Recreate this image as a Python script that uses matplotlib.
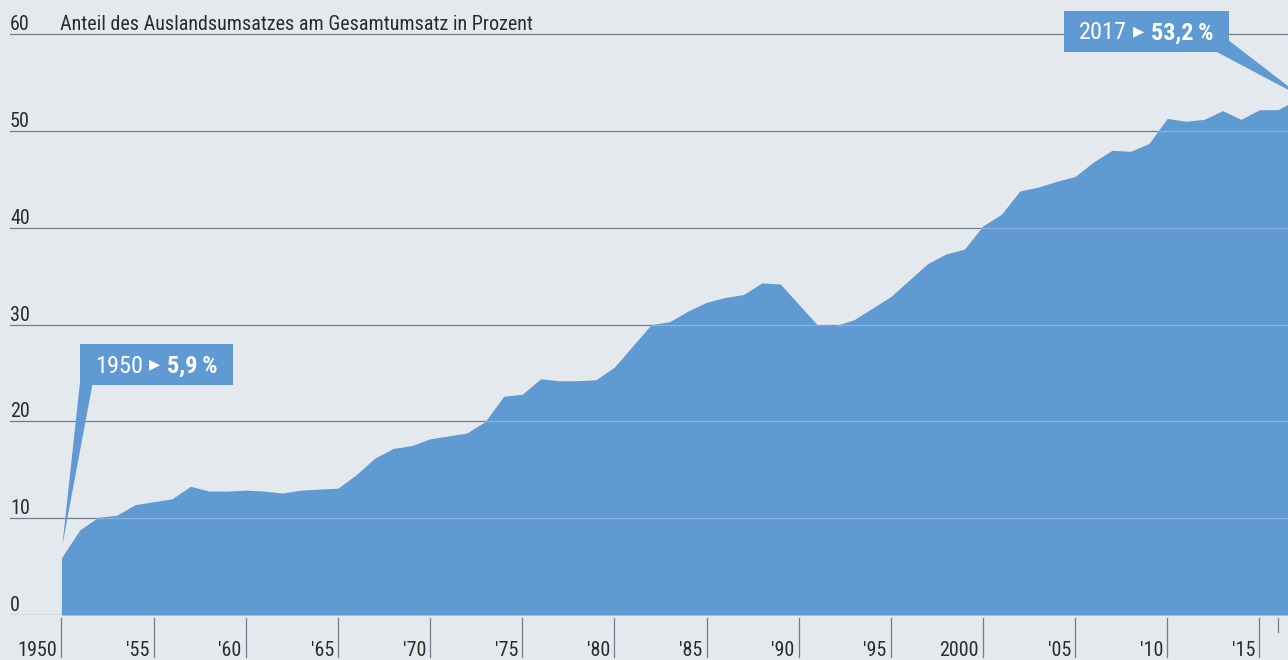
import matplotlib
matplotlib.use('Agg')
import matplotlib.pyplot as plt
import matplotlib.transforms as mtransforms
from matplotlib.patches import Rectangle, Polygon

# Anteil Auslandsumsatz am Gesamtumsatz, in Prozent
years = list(range(1950, 2018))
share = [5.9, 8.8, 10.1, 10.3, 11.4, 11.7, 12.0, 13.3, 12.8, 12.8,
         12.9, 12.8, 12.6, 12.9, 13.0, 13.1, 14.5, 16.2, 17.2, 17.5,
         18.2, 18.5, 18.8, 20.0, 22.6, 22.8, 24.4, 24.2, 24.2, 24.3,
         25.6, 27.8, 30.0, 30.3, 31.4, 32.3, 32.8, 33.1, 34.3, 34.2,
         32.1, 30.0, 29.9, 30.5, 31.7, 32.9, 34.6, 36.3, 37.3, 37.8,
         40.2, 41.4, 43.8, 44.2, 44.8, 45.3, 46.8, 48.0, 47.9, 48.7,
         51.3, 51.0, 51.2, 52.1, 51.2, 52.2, 52.2, 53.2]

ytick_vals = [0, 10, 20, 30, 40, 50, 60]
xtick_years = list(range(1950, 2016, 5))
xtick_labels = ['1950', "'55", "'60", "'65", "'70", "'75", "'80", "'85",
                "'90", "'95", '2000', "'05", "'10", "'15"]
title = 'Anteil des Auslandsumsatzes am Gesamtumsatz in Prozent'

BG = '#E4E9EE'
BLUE = '#5F9AD2'
GRID = '#6F7E8C'
TEXT = '#2B2B2B'

plt.rcParams['font.family'] = ['Roboto Condensed', 'DejaVu Sans']

fig = plt.figure(figsize=(12.88, 6.6), dpi=100, facecolor=BG)
ax = fig.add_axes([10 / 1288, 45 / 660, 1278 / 1288, 615 / 660])
ax.set_xlim(1947.21, 2016.55)
ax.set_ylim(0, 63.53)
ax.axis('off')

# gridlines, area, lighter gridlines inside the area
for v in ytick_vals[1:]:
    ax.axhline(v, color=GRID, lw=0.9, zorder=1)
area = ax.fill_between(years, share, 0, color=BLUE, lw=0, zorder=2)
clip = area.get_paths()[0]
for v in ytick_vals[1:]:
    ln = ax.axhline(v, color='white', alpha=0.25, lw=0.9, zorder=3)
    ln.set_clip_path(clip, ax.transData)
ax.axhline(0, color=GRID, lw=0.9, zorder=4)

# y labels sit on top of their gridlines
ylab_tr = mtransforms.offset_copy(ax.get_yaxis_transform(), fig=fig, x=0, y=4, units='dots')
for v in ytick_vals:
    ax.text(0, v, str(v), transform=ylab_tr, fontsize=14.5, color=TEXT,
            ha='left', va='baseline')
ax.text(50 / 1278, 60, title, transform=ylab_tr, fontsize=14.5, color=TEXT,
        ha='left', va='baseline')

# x ticks and labels below the plot
tick_tr = mtransforms.blended_transform_factory(ax.transData, fig.transFigure)
xlab_tr = mtransforms.offset_copy(tick_tr, fig=fig, x=-4, y=0, units='dots')
for yr, lab in zip(xtick_years, xtick_labels):
    ax.plot([yr, yr], [42 / 660, 3 / 660], transform=tick_tr, color=GRID,
            lw=0.9, clip_on=False)
    ax.text(yr, 4 / 660, lab, transform=xlab_tr, fontsize=14.5, color=TEXT,
            ha='right', va='baseline')
ax.plot([2016, 2016], [42 / 660, 28 / 660], transform=tick_tr, color=GRID,
        lw=0.9, clip_on=False)


def callout(x0, x1, y0, y1, wedge, year_txt, value_txt):
    ax.add_patch(Rectangle((x0, y0), x1 - x0, y1 - y0, facecolor=BLUE, lw=0,
                           zorder=5, clip_on=False))
    ax.add_patch(Polygon(wedge, closed=True, facecolor=BLUE, lw=0, zorder=5,
                         clip_on=False))
    t1 = ax.text(x0 + 0.82, y0 + 1.25, year_txt, color='white', fontsize=17.5,
                 ha='left', va='baseline', zorder=6)
    ax.annotate('\u25b8', xy=(1, 0.5), xycoords=t1, xytext=(8.5, 1.5),
                textcoords='offset points', color='white', fontsize=16,
                family='DejaVu Sans', ha='center', va='center', zorder=6)
    ax.annotate(value_txt, xy=(1, 0), xycoords=t1, xytext=(17, 0),
                textcoords='offset points', color='white', fontsize=17.5,
                fontweight='bold', ha='left', va='bottom', zorder=6)


callout(1951.0, 1959.29, 23.76, 28.0,
        [(1951.0, 23.9), (1951.69, 23.9), (1950.05, 7.2)],
        '1950', '5,9\u2009%')
callout(2004.4, 2013.35, 58.2, 62.4,
        [(2013.3, 59.4), (2012.55, 58.3), (2017.4, 53.4)],
        '2017', '53,2\u2009%')

fig.savefig('out.png', dpi=100, facecolor=BG)
